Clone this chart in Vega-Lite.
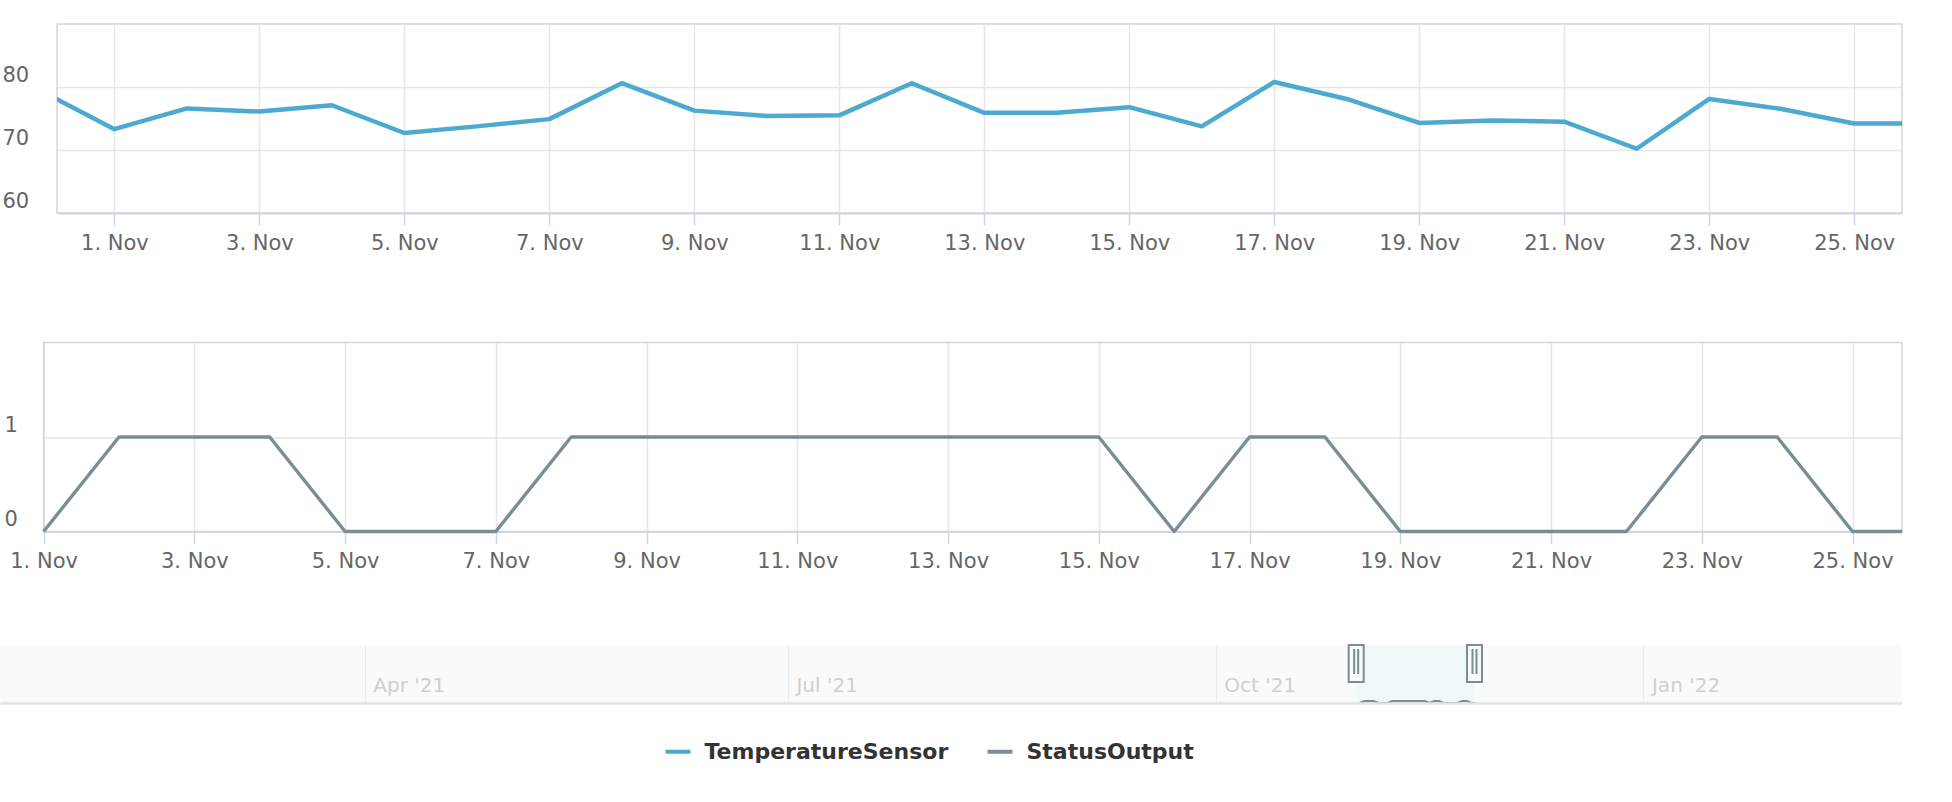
{
  "$schema": "https://vega.github.io/schema/vega-lite/v6.json",
  "padding": {"left": 0, "top": 23, "right": 0, "bottom": 0},
  "background": "white",
  "datasets": {
    "temp": [
      {"date": "2021-10-31", "series": "TemperatureSensor", "value": 79.3},
      {"date": "2021-11-01", "series": "TemperatureSensor", "value": 73.3},
      {"date": "2021-11-02", "series": "TemperatureSensor", "value": 76.6},
      {"date": "2021-11-03", "series": "TemperatureSensor", "value": 76.1},
      {"date": "2021-11-04", "series": "TemperatureSensor", "value": 77.1},
      {"date": "2021-11-05", "series": "TemperatureSensor", "value": 72.7},
      {"date": "2021-11-06", "series": "TemperatureSensor", "value": 73.75},
      {"date": "2021-11-07", "series": "TemperatureSensor", "value": 74.9},
      {"date": "2021-11-08", "series": "TemperatureSensor", "value": 80.6},
      {"date": "2021-11-09", "series": "TemperatureSensor", "value": 76.25},
      {"date": "2021-11-10", "series": "TemperatureSensor", "value": 75.4},
      {"date": "2021-11-11", "series": "TemperatureSensor", "value": 75.5},
      {"date": "2021-11-12", "series": "TemperatureSensor", "value": 80.6},
      {"date": "2021-11-13", "series": "TemperatureSensor", "value": 75.9},
      {"date": "2021-11-14", "series": "TemperatureSensor", "value": 75.9},
      {"date": "2021-11-15", "series": "TemperatureSensor", "value": 76.8},
      {"date": "2021-11-16", "series": "TemperatureSensor", "value": 73.75},
      {"date": "2021-11-17", "series": "TemperatureSensor", "value": 80.8},
      {"date": "2021-11-18", "series": "TemperatureSensor", "value": 78.1},
      {"date": "2021-11-19", "series": "TemperatureSensor", "value": 74.3},
      {"date": "2021-11-20", "series": "TemperatureSensor", "value": 74.7},
      {"date": "2021-11-21", "series": "TemperatureSensor", "value": 74.5},
      {"date": "2021-11-22", "series": "TemperatureSensor", "value": 70.2},
      {"date": "2021-11-23", "series": "TemperatureSensor", "value": 78.1},
      {"date": "2021-11-24", "series": "TemperatureSensor", "value": 76.5},
      {"date": "2021-11-25", "series": "TemperatureSensor", "value": 74.2},
      {"date": "2021-11-26", "series": "TemperatureSensor", "value": 74.2}
    ],
    "status": [
      {"date": "2021-11-01", "series": "StatusOutput", "value": 0},
      {"date": "2021-11-02", "series": "StatusOutput", "value": 1},
      {"date": "2021-11-03", "series": "StatusOutput", "value": 1},
      {"date": "2021-11-04", "series": "StatusOutput", "value": 1},
      {"date": "2021-11-05", "series": "StatusOutput", "value": 0},
      {"date": "2021-11-06", "series": "StatusOutput", "value": 0},
      {"date": "2021-11-07", "series": "StatusOutput", "value": 0},
      {"date": "2021-11-08", "series": "StatusOutput", "value": 1},
      {"date": "2021-11-09", "series": "StatusOutput", "value": 1},
      {"date": "2021-11-10", "series": "StatusOutput", "value": 1},
      {"date": "2021-11-11", "series": "StatusOutput", "value": 1},
      {"date": "2021-11-12", "series": "StatusOutput", "value": 1},
      {"date": "2021-11-13", "series": "StatusOutput", "value": 1},
      {"date": "2021-11-14", "series": "StatusOutput", "value": 1},
      {"date": "2021-11-15", "series": "StatusOutput", "value": 1},
      {"date": "2021-11-16", "series": "StatusOutput", "value": 0},
      {"date": "2021-11-17", "series": "StatusOutput", "value": 1},
      {"date": "2021-11-18", "series": "StatusOutput", "value": 1},
      {"date": "2021-11-19", "series": "StatusOutput", "value": 0},
      {"date": "2021-11-20", "series": "StatusOutput", "value": 0},
      {"date": "2021-11-21", "series": "StatusOutput", "value": 0},
      {"date": "2021-11-22", "series": "StatusOutput", "value": 0},
      {"date": "2021-11-23", "series": "StatusOutput", "value": 1},
      {"date": "2021-11-24", "series": "StatusOutput", "value": 1},
      {"date": "2021-11-25", "series": "StatusOutput", "value": 0},
      {"date": "2021-11-26", "series": "StatusOutput", "value": 0}
    ],
    "navRange": [{"start": "2021-01-12T13:00:00Z", "end": "2022-02-25T14:24:00Z"}],
    "selection": [{"start": "2021-10-31T05:00:00Z", "end": "2021-11-25T15:50:00Z"}],
    "panel": [{"start": "2021-11-01T00:00:00Z", "end": "2021-11-25T15:45:00Z", "low": 0, "high": 2}]
  },
  "columns": 1,
  "align": "none",
  "bounds": "full",
  "spacing": 69.5,
  "concat": [
    {
      "width": 1845,
      "height": 189,
      "data": {"name": "temp"},
      "mark": {"type": "line", "strokeWidth": 4.5, "clip": true, "strokeJoin": "round", "strokeCap": "round"},
      "encoding": {
        "x": {
          "field": "date", "type": "temporal",
          "scale": {"type": "utc", "nice": false, "domain": [
            {"year": 2021, "month": "oct", "date": 31, "hours": 5, "utc": true},
            {"year": 2021, "month": "nov", "date": 25, "hours": 15, "minutes": 50, "utc": true}
          ]},
          "axis": {
            "values": [
              {"year": 2021, "month": "nov", "date": 1, "utc": true},
              {"year": 2021, "month": "nov", "date": 3, "utc": true},
              {"year": 2021, "month": "nov", "date": 5, "utc": true},
              {"year": 2021, "month": "nov", "date": 7, "utc": true},
              {"year": 2021, "month": "nov", "date": 9, "utc": true},
              {"year": 2021, "month": "nov", "date": 11, "utc": true},
              {"year": 2021, "month": "nov", "date": 13, "utc": true},
              {"year": 2021, "month": "nov", "date": 15, "utc": true},
              {"year": 2021, "month": "nov", "date": 17, "utc": true},
              {"year": 2021, "month": "nov", "date": 19, "utc": true},
              {"year": 2021, "month": "nov", "date": 21, "utc": true},
              {"year": 2021, "month": "nov", "date": 23, "utc": true},
              {"year": 2021, "month": "nov", "date": 25, "utc": true}
            ],
            "format": "%-d. %b",
            "title": " ",
            "titleFontSize": 18,
            "titlePadding": 0,
            "titleColor": "#ffffff"
          }
        },
        "y": {
          "field": "value", "type": "quantitative",
          "scale": {"domain": [60, 90], "nice": false, "zero": false},
          "axis": {"values": [60, 70, 80], "format": "d", "labelPadding": 55, "title": null}
        },
        "color": {
          "field": "series", "type": "nominal",
          "scale": {"domain": ["TemperatureSensor", "StatusOutput"], "range": ["#4ca9cf", "#7a8c94"]},
          "legend": {
            "orient": "none", "legendX": 606.5, "legendY": 713, "direction": "horizontal",
            "title": null, "symbolType": "stroke", "symbolSize": 625, "symbolStrokeWidth": 4,
            "labelFont": "DejaVu Sans", "labelFontSize": 22, "labelFontWeight": "bold",
            "labelColor": "#333333", "labelOffset": 12, "columnPadding": 31, "padding": 0, "labelLimit": 400
          }
        }
      }
    },
    {
      "width": 1845,
      "height": 189,
      "view": {"stroke": null},
      "layer": [
        {
          "data": {"name": "panel"},
          "mark": {"type": "rect", "fillOpacity": 0, "stroke": "#d6d6d6", "strokeWidth": 1.5},
          "encoding": {
            "x": {
              "field": "start", "type": "temporal",
              "scale": {"type": "utc", "nice": false, "clamp": true, "range": [-13.4, 1845], "domain": [
                {"year": 2021, "month": "nov", "date": 1, "utc": true},
                {"year": 2021, "month": "nov", "date": 25, "hours": 15, "minutes": 45, "utc": true}
              ]},
              "axis": {
                "values": [
                  {"year": 2021, "month": "nov", "date": 1, "utc": true},
                  {"year": 2021, "month": "nov", "date": 3, "utc": true},
                  {"year": 2021, "month": "nov", "date": 5, "utc": true},
                  {"year": 2021, "month": "nov", "date": 7, "utc": true},
                  {"year": 2021, "month": "nov", "date": 9, "utc": true},
                  {"year": 2021, "month": "nov", "date": 11, "utc": true},
                  {"year": 2021, "month": "nov", "date": 13, "utc": true},
                  {"year": 2021, "month": "nov", "date": 15, "utc": true},
                  {"year": 2021, "month": "nov", "date": 17, "utc": true},
                  {"year": 2021, "month": "nov", "date": 19, "utc": true},
                  {"year": 2021, "month": "nov", "date": 21, "utc": true},
                  {"year": 2021, "month": "nov", "date": 23, "utc": true},
                  {"year": 2021, "month": "nov", "date": 25, "utc": true}
                ],
                "format": "%-d. %b",
                "title": null
              }
            },
            "x2": {"field": "end"},
            "y": {
              "field": "low", "type": "quantitative",
              "scale": {"domain": [0, 2], "nice": false},
              "axis": {"values": [0, 1], "format": "d", "labelPadding": 53, "title": null}
            },
            "y2": {"field": "high"}
          }
        },
        {
          "data": {"name": "status"},
          "mark": {"type": "line", "strokeWidth": 3.4, "strokeJoin": "round"},
          "encoding": {
            "x": {"field": "date", "type": "temporal"},
            "y": {"field": "value", "type": "quantitative"},
            "color": {"field": "series", "type": "nominal"}
          }
        }
      ]
    },
    {
      "width": 1845,
      "height": 58,
      "view": {"stroke": null},
      "layer": [
        {
          "data": {"name": "navRange"},
          "mark": {"type": "rect", "color": "#f9fbfb"},
          "encoding": {
            "x": {
              "field": "start", "type": "temporal",
              "scale": {"type": "utc", "nice": false, "range": [-57, 1845], "domain": [
                {"year": 2021, "month": "jan", "date": 12, "hours": 13, "utc": true},
                {"year": 2022, "month": "feb", "date": 25, "hours": 14, "minutes": 24, "utc": true}
              ]},
              "axis": {
                "values": [
                  {"year": 2021, "month": "apr", "date": 1, "utc": true},
                  {"year": 2021, "month": "jul", "date": 1, "utc": true},
                  {"year": 2021, "month": "oct", "date": 1, "utc": true},
                  {"year": 2022, "month": "jan", "date": 1, "utc": true}
                ],
                "format": "%b '%y",
                "title": null,
                "grid": true,
                "gridColor": "#ececec",
                "gridWidth": 1,
                "domainColor": "#e3e3e3",
                "domainWidth": 2.5,
                "ticks": false,
                "tickSize": 0,
                "labelAlign": "left",
                "labelBaseline": "bottom",
                "labelPadding": -8,
                "labelOffset": 8,
                "labelColor": "#cfcfcf",
                "labelFontSize": 20,
                "zindex": 1
              }
            },
            "x2": {"field": "end"}
          }
        },
        {
          "data": {"name": "selection"},
          "mark": {"type": "rect", "color": "#f1f8f8"},
          "encoding": {
            "x": {"field": "start", "type": "temporal"},
            "x2": {"field": "end"}
          }
        },
        {
          "data": {"name": "status"},
          "mark": {"type": "line", "color": "#7a8c94", "strokeWidth": 2},
          "encoding": {
            "x": {"field": "date", "type": "temporal"},
            "y": {"field": "value", "type": "quantitative", "scale": {"domain": [0, 29], "nice": false}, "axis": null}
          }
        },
        {
          "data": {"name": "selection"},
          "mark": {"type": "point", "shape": "M-7.5,-18.5 V18.5 H7.5 V-18.5 Z M-2,-14.5 V10.5 M2,-14.5 V10.5", "size": 4, "filled": true, "fill": "#f8fafa", "stroke": "#7a8c94", "strokeWidth": 2, "opacity": 1},
          "encoding": {
            "x": {"field": "start", "type": "temporal"},
            "y": {"datum": 19.75, "type": "quantitative", "axis": null}
          }
        },
        {
          "data": {"name": "selection"},
          "mark": {"type": "point", "shape": "M-7.5,-18.5 V18.5 H7.5 V-18.5 Z M-2,-14.5 V10.5 M2,-14.5 V10.5", "size": 4, "filled": true, "fill": "#f8fafa", "stroke": "#7a8c94", "strokeWidth": 2, "opacity": 1},
          "encoding": {
            "x": {"field": "end", "type": "temporal"},
            "y": {"datum": 19.75, "type": "quantitative", "axis": null}
          }
        }
      ]
    }
  ],
  "resolve": {"scale": {"x": "independent", "y": "independent", "color": "shared"}},
  "config": {
    "font": "DejaVu Sans",
    "view": {"stroke": "#d6d6d6", "strokeWidth": 1.5},
    "axis": {
      "labelFont": "DejaVu Sans",
      "labelFontSize": 21,
      "labelColor": "#666666",
      "gridColor": "#e6e6e6",
      "gridWidth": 1.5,
      "domainColor": "#ccd6eb",
      "domainWidth": 2,
      "tickColor": "#ccd6eb",
      "tickWidth": 1.5,
      "tickSize": 12,
      "labelPadding": 7,
      "labelFlush": false,
      "labelOverlap": false,
      "titleFont": "DejaVu Sans"
    },
    "axisY": {
      "domain": false,
      "ticks": false,
      "tickSize": 0,
      "labelAlign": "left",
      "labelBaseline": "middle",
      "labelOffset": -12
    }
  }
}
